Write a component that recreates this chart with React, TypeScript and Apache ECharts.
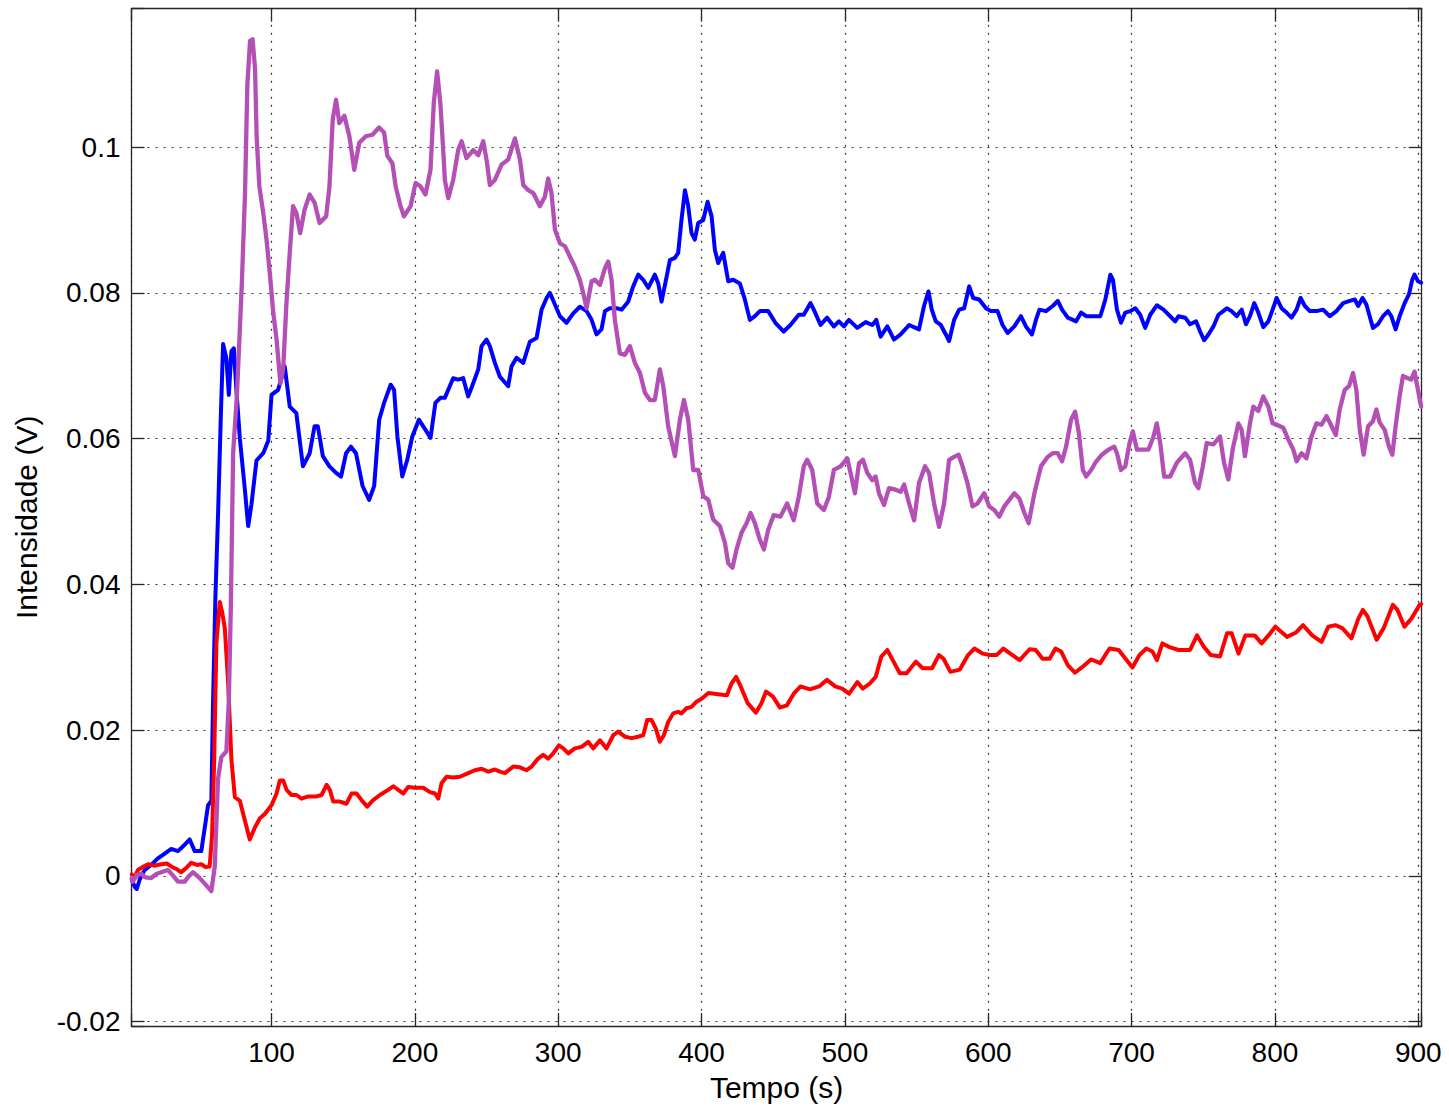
import React, { useEffect, useRef } from "react";
import * as echarts from "echarts";

// Axis extents and tick labels
const X_MIN = 2.3;
const X_MAX = 902.4;
const Y_MIN = -0.0206;
const Y_MAX = 0.119;
const X_STEP = 100;
const Y_STEP = 0.02;
const xTickLabels = ["100", "200", "300", "400", "500", "600", "700", "800", "900"];
const yTickLabels = ["-0.02", "0", "0.02", "0.04", "0.06", "0.08", "0.1"];
const xAxisTitle = "Tempo (s)";
const yAxisTitle = "Intensidade (V)";

// Blue series [time (s), intensity (V)]
const blueSeries: [number, number][] = [
  [2.5, -0.0005], [4.5, -0.0015], [6, -0.0018], [8, -0.0005], [11.4, 0.0008], [16, 0.0015], [20.7, 0.0024],
  [25, 0.003], [30, 0.0037], [34.7, 0.0034], [39, 0.0042], [42.9, 0.005], [46.4, 0.0034], [51, 0.0034],
  [53.4, 0.0066], [55.7, 0.0097], [58, 0.0103], [59.2, 0.024], [60.8, 0.038], [62.7, 0.0497], [64.6, 0.063],
  [66.2, 0.073], [68.5, 0.071], [70.2, 0.066], [72, 0.072], [73.7, 0.0724], [75.5, 0.0666], [77.9, 0.06],
  [81.4, 0.053], [83.7, 0.048], [86, 0.051], [89.5, 0.057], [94.2, 0.058], [97.7, 0.0597], [100, 0.066],
  [104.6, 0.0667], [109.2, 0.0699], [112.7, 0.0644], [117.3, 0.0635], [121.9, 0.0562], [126.6, 0.058],
  [130, 0.0617], [132.3, 0.0617], [135.8, 0.0576], [140.4, 0.0562], [145, 0.0553], [148.5, 0.0548],
  [152, 0.058], [155.4, 0.0589], [158.9, 0.058], [163.5, 0.0535], [168.1, 0.0516], [171.6, 0.0535],
  [175.1, 0.0626], [178.5, 0.0649], [183.1, 0.0674], [185.5, 0.0667], [187.8, 0.0603], [191.2, 0.0548],
  [194.7, 0.0571], [198.2, 0.0603], [202.8, 0.0626], [207.4, 0.0612], [210.9, 0.0601], [214.3, 0.0649],
  [217.8, 0.0656], [220.9, 0.0656], [223.3, 0.0667], [226.7, 0.0683], [230.2, 0.0681], [233.7, 0.0683],
  [237.2, 0.0658], [240.7, 0.0676], [244.2, 0.0695], [246.5, 0.0727], [250, 0.0736], [252.3, 0.0727],
  [255.8, 0.0704], [259.3, 0.0685], [265.1, 0.0672], [267.4, 0.0699], [270.9, 0.0711], [275.6, 0.0704],
  [280.2, 0.0733], [284.9, 0.0738], [288.4, 0.0777], [291.9, 0.0793], [294.2, 0.08], [297.7, 0.0784],
  [301.2, 0.0768], [305.8, 0.0759], [310.5, 0.0772], [315.1, 0.0781], [319.8, 0.0775], [323.3, 0.0763],
  [326.7, 0.0743], [330.2, 0.075], [332.6, 0.0775], [336, 0.0779], [340.7, 0.0779], [344.2, 0.0777],
  [348.8, 0.0788], [352.3, 0.0809], [355.8, 0.0825], [359.3, 0.0818], [362.8, 0.0807], [367.4, 0.0825],
  [369.8, 0.0813], [372.1, 0.0788], [375.6, 0.0822], [377.9, 0.0845], [381.4, 0.0848], [383.7, 0.0855],
  [386, 0.09], [388.4, 0.0941], [390.7, 0.0919], [393, 0.0882], [395.3, 0.0873], [397.7, 0.0896],
  [401.2, 0.09], [404.2, 0.0925], [407, 0.0905], [409.3, 0.0859], [411.6, 0.0841], [415.1, 0.0855],
  [418.6, 0.0816], [422.1, 0.0818], [426.7, 0.0813], [430.2, 0.0791], [433.7, 0.0763], [437.2, 0.0768],
  [440.7, 0.0775], [446.5, 0.0775], [451.5, 0.0759], [457.3, 0.0747], [462, 0.0756], [467.8, 0.077],
  [471.3, 0.077], [476, 0.0786], [478.3, 0.0777], [483, 0.0756], [487.6, 0.0766], [492.3, 0.0754],
  [495.8, 0.0761], [499.3, 0.0754], [502.8, 0.0763], [508.6, 0.0752], [514.5, 0.076], [519.1, 0.0756],
  [521.9, 0.0763], [524.9, 0.074], [529.6, 0.0754], [534.3, 0.0736], [538.9, 0.0743], [544.8, 0.0756],
  [551.7, 0.075], [555.2, 0.0782], [558.3, 0.0802], [560.6, 0.0777], [563.4, 0.0761], [566.9, 0.0756],
  [570.4, 0.0743], [572.7, 0.0734], [576.2, 0.0763], [579.7, 0.0777], [583.2, 0.0779], [586.7, 0.0809],
  [589.5, 0.0793], [593.7, 0.0791], [598.4, 0.0779], [601.9, 0.0775], [606.5, 0.0775], [610, 0.0756],
  [613.5, 0.0745], [618.2, 0.0754], [622.8, 0.0768], [626.3, 0.0754], [630.5, 0.0743], [633.3, 0.0763],
  [635.7, 0.0777], [640.3, 0.0775], [645, 0.0782], [648.5, 0.0789], [651.5, 0.0777], [655.5, 0.0766],
  [659, 0.0763], [661.3, 0.0761], [664.8, 0.0773], [668.3, 0.0768], [673, 0.0768], [678.2, 0.0768],
  [681.7, 0.0791], [685.2, 0.0825], [687, 0.0818], [689.8, 0.0777], [692.6, 0.0759], [695.6, 0.0773],
  [699.1, 0.0775], [702.6, 0.0779], [706, 0.077], [709.5, 0.0752], [713, 0.077], [717.6, 0.0783],
  [722.3, 0.0777], [726.9, 0.0768], [730.4, 0.0761], [732.7, 0.0768], [737.4, 0.0766], [740.8, 0.0757],
  [745, 0.0761], [747.8, 0.0747], [750.6, 0.0735], [753.6, 0.0743], [757.1, 0.0754], [760.6, 0.077],
  [764, 0.0775], [766.4, 0.0779], [769.8, 0.0775], [773.3, 0.0768], [776.8, 0.0777], [779.8, 0.0757],
  [782.6, 0.0768], [785.6, 0.0786], [788.4, 0.0773], [791.9, 0.0753], [795.4, 0.0761], [798.4, 0.0777],
  [801.2, 0.0793], [804.6, 0.0779], [808.1, 0.0773], [811.6, 0.0766], [815.1, 0.0777], [817.9, 0.0793],
  [820.9, 0.0782], [824.4, 0.0775], [829, 0.0775], [833.6, 0.0777], [838.3, 0.0768], [842.9, 0.0775],
  [847.6, 0.0786], [852.2, 0.0789], [855.7, 0.0791], [858.1, 0.0782], [861.1, 0.0793], [863.8, 0.0784],
  [866.1, 0.0768], [868.4, 0.0752], [871.9, 0.0757], [875.4, 0.0768], [878.9, 0.0775], [881.2, 0.0768],
  [884.2, 0.075], [887, 0.0768], [890.5, 0.0786], [893.5, 0.0798], [895.8, 0.0818], [897.4, 0.0825],
  [899.8, 0.0816], [902, 0.0814],
];

// Red series [time (s), intensity (V)]
const redSeries: [number, number][] = [
  [2.5, 0.0002], [4, -0.0003], [6.8, 0.0008], [10, 0.0012], [13.8, 0.0016], [18, 0.0014], [23.1, 0.0016],
  [27, 0.0017], [30, 0.0013], [34, 0.0009], [37, 0.0005], [41, 0.0012], [44, 0.0018], [48, 0.0015],
  [51, 0.0016], [54, 0.0012], [56.8, 0.0013], [58.5, 0.0055], [60, 0.016], [61.5, 0.0318], [63.9, 0.0376],
  [65.7, 0.036], [67.4, 0.034], [69.7, 0.0266], [72, 0.016], [74.4, 0.0108], [77.9, 0.0103], [81.4, 0.0076],
  [84.8, 0.005], [88.3, 0.0066], [91.9, 0.0079], [95.3, 0.0085], [100, 0.0097], [103.5, 0.0113],
  [105.8, 0.0131], [108.1, 0.0131], [110.5, 0.0118], [113.9, 0.0111], [117.4, 0.0111], [120.9, 0.0106],
  [125.6, 0.0109], [131.4, 0.0109], [134.9, 0.0111], [138.4, 0.0125], [140.7, 0.0118], [143, 0.0102],
  [147.7, 0.0102], [152.3, 0.0099], [155.8, 0.0113], [159.3, 0.0113], [162.8, 0.0104], [166.7, 0.0095],
  [170.9, 0.0104], [175.6, 0.0111], [181.4, 0.0118], [184.9, 0.0123], [188.4, 0.0118], [191.9, 0.0113],
  [195.3, 0.0122], [200, 0.0121], [205.8, 0.0121], [210.5, 0.0115], [214, 0.0113], [216.3, 0.0106],
  [218.6, 0.0127], [222.1, 0.0136], [226.7, 0.0135], [231.4, 0.0136], [237.2, 0.0141], [241.9, 0.0145],
  [246.5, 0.0147], [251.2, 0.0143], [255.8, 0.0146], [259.3, 0.0143], [262.8, 0.0141], [268.6, 0.015],
  [273.3, 0.0149], [277.9, 0.0145], [281.4, 0.015], [286, 0.0161], [289.5, 0.0166], [293, 0.0161],
  [296.5, 0.0168], [300.5, 0.0179], [303.5, 0.0175], [307, 0.0168], [311.6, 0.0175], [316.3, 0.0177],
  [320.9, 0.0184], [324.4, 0.0175], [329.1, 0.0186], [333.7, 0.0175], [338.4, 0.0193], [341.9, 0.0198],
  [346.5, 0.0191], [351.2, 0.0189], [355.8, 0.0191], [359.3, 0.0193], [362.1, 0.0214], [365.1, 0.0214],
  [368.1, 0.0202], [370.9, 0.0184], [373.7, 0.0193], [376.7, 0.0211], [380.2, 0.0223], [383.7, 0.0225],
  [386, 0.0223], [389.5, 0.023], [393, 0.0232], [396.5, 0.0239], [400, 0.0243], [404.8, 0.0251],
  [412.9, 0.0249], [417.7, 0.0248], [420.9, 0.0264], [424.1, 0.0273], [427.3, 0.026], [432.2, 0.0237],
  [437.9, 0.0224], [441.8, 0.0237], [445, 0.0253], [449.8, 0.0246], [454.7, 0.0231], [459.5, 0.0234],
  [464.3, 0.025], [469.1, 0.026], [475.6, 0.0256], [482, 0.026], [487.5, 0.0269], [493.2, 0.026],
  [498.1, 0.0257], [502.9, 0.025], [508.7, 0.0266], [512.5, 0.0257], [517.4, 0.0264], [521.5, 0.0273],
  [525.4, 0.0301], [529.6, 0.031], [533.4, 0.0296], [538.3, 0.0278], [543.1, 0.0278], [549.5, 0.0294],
  [554.3, 0.0285], [560.8, 0.0285], [565.6, 0.0303], [568.8, 0.0298], [573.6, 0.028], [580.1, 0.0283],
  [585.9, 0.0303], [590.4, 0.0312], [596.1, 0.0305], [601, 0.0303], [605.8, 0.0303], [610.6, 0.0312],
  [615.4, 0.0305], [621.9, 0.0296], [628.9, 0.0311], [633.1, 0.031], [637.9, 0.0298], [642.8, 0.0298],
  [646.9, 0.0312], [650.8, 0.0308], [655.6, 0.0289], [660.5, 0.0279], [665.3, 0.0286], [671.7, 0.0297],
  [678.1, 0.0292], [684.6, 0.0312], [691, 0.031], [695.8, 0.0298], [700.6, 0.0286], [705.5, 0.0303],
  [710.3, 0.0312], [714.5, 0.0308], [717.7, 0.0296], [721.5, 0.0319], [726.4, 0.0314], [732.8, 0.031],
  [740.8, 0.031], [745.7, 0.033], [750.5, 0.0314], [755.3, 0.0303], [761.7, 0.0301], [766.6, 0.0333],
  [769.8, 0.0333], [774.6, 0.0305], [779.4, 0.033], [785.9, 0.033], [790.7, 0.0319], [795.5, 0.033],
  [800.3, 0.0342], [808.4, 0.0328], [814.8, 0.0334], [819.6, 0.0344], [826, 0.033], [832.5, 0.0321],
  [837.3, 0.0342], [842.1, 0.0344], [847, 0.034], [853.4, 0.0326], [858.2, 0.0353], [861.4, 0.0365],
  [864.6, 0.0356], [871, 0.0324], [875.9, 0.034], [882.3, 0.0372], [885.5, 0.0365], [890.4, 0.0342],
  [895.2, 0.0353], [901, 0.0372], [902, 0.0373],
];

// Purple series [time (s), intensity (V)]
const purpleSeries: [number, number][] = [
  [2.5, -0.0003], [3.2, -0.0008], [6, 0.0001], [9, 0.0003], [12, -0.0002], [16, -0.0003], [20, 0.0003],
  [23, 0.0005], [27.7, 0.0008], [31, 0.0001], [34.7, -0.0008], [39.4, -0.0008], [42, -0.0001],
  [45.2, 0.0005], [49.9, -0.0003], [54.5, -0.0013], [58, -0.0021], [60.4, 0.0013], [62.7, 0.0134],
  [65, 0.0163], [68.5, 0.0171], [70.2, 0.024], [71.6, 0.037], [73.2, 0.058], [75.8, 0.0658],
  [79.2, 0.0809], [81.5, 0.0937], [83.1, 0.1084], [85, 0.1146], [86.8, 0.1148], [88.5, 0.1107],
  [89.6, 0.1015], [91.5, 0.0946], [94.2, 0.091], [96.5, 0.0873], [98.8, 0.0827], [101.2, 0.0773],
  [103.5, 0.0736], [106.2, 0.0676], [108.1, 0.0695], [110.4, 0.0786], [112.7, 0.0855], [115, 0.0919],
  [117.3, 0.091], [120, 0.0882], [123, 0.0914], [126.6, 0.0935], [130, 0.0924], [133.5, 0.0896],
  [138.1, 0.0905], [140.4, 0.0946], [142.7, 0.1038], [145, 0.1065], [147.3, 0.1033], [150.8, 0.1043],
  [154.3, 0.1015], [157.7, 0.0969], [161.2, 0.1006], [165.8, 0.1015], [170.4, 0.1017], [175, 0.1027],
  [178.5, 0.102], [180.8, 0.0988], [184.3, 0.0978], [186.6, 0.0946], [190, 0.0919], [192.4, 0.0905],
  [197, 0.0919], [200.5, 0.0951], [204, 0.0946], [207.4, 0.0935], [210.9, 0.0969], [213.2, 0.1061],
  [215.5, 0.1104], [217.8, 0.106], [220.1, 0.0985], [220.9, 0.0955], [223.3, 0.093], [226.7, 0.0955],
  [230.2, 0.0996], [232.6, 0.1008], [236, 0.0985], [240.7, 0.0996], [244.2, 0.0989], [247.7, 0.1008],
  [250, 0.0983], [252.3, 0.0948], [255.8, 0.0955], [260.5, 0.0976], [265.1, 0.0983], [269.8, 0.1012],
  [273.3, 0.0983], [275.6, 0.0948], [279.1, 0.0941], [282.6, 0.0937], [287.2, 0.0919], [290.7, 0.0932],
  [293, 0.0957], [295.3, 0.0937], [297.7, 0.0887], [301.2, 0.0868], [304.7, 0.0864], [308.1, 0.085],
  [311.6, 0.0836], [315.1, 0.0818], [317.4, 0.08], [319.8, 0.0779], [323.3, 0.0816], [325.6, 0.0818],
  [329.1, 0.0811], [332.6, 0.0834], [334.9, 0.0843], [337.2, 0.0818], [339.5, 0.0763], [343, 0.0717],
  [346.5, 0.0715], [350, 0.0727], [353.5, 0.0704], [357, 0.069], [360.5, 0.0663], [364, 0.0653],
  [367.4, 0.0653], [370.9, 0.0695], [373.3, 0.0672], [376.7, 0.0617], [381.4, 0.0576], [384.9, 0.0626],
  [387.7, 0.0653], [390.7, 0.0626], [394.2, 0.0557], [397.7, 0.0557], [401.2, 0.0521], [404.7, 0.0516],
  [408.1, 0.0489], [412.8, 0.048], [416.3, 0.0457], [418.6, 0.0429], [421.6, 0.0423], [424.4, 0.0448],
  [427.9, 0.0471], [431.4, 0.0484], [434.2, 0.0498], [437.2, 0.0484], [440.7, 0.0461], [443.5, 0.0448],
  [446.5, 0.0475], [450.3, 0.0495], [455, 0.0493], [459.7, 0.0511], [464.3, 0.0488], [467.8, 0.052],
  [471.3, 0.0562], [473.7, 0.0571], [477.2, 0.0557], [480.7, 0.0511], [485.3, 0.0502], [488.8, 0.052],
  [492.3, 0.0557], [497, 0.0562], [501.6, 0.0573], [505.1, 0.0543], [507, 0.0525], [509.8, 0.0566],
  [512.6, 0.0571], [515.6, 0.0553], [519.1, 0.0543], [521.4, 0.0548], [523.8, 0.0525], [527.3, 0.0509],
  [530.8, 0.0532], [535.4, 0.053], [538.9, 0.0527], [541.3, 0.0537], [544.8, 0.0511], [548.3, 0.0488],
  [551.7, 0.0539], [555.9, 0.0562], [558.7, 0.0553], [562.2, 0.0511], [565.7, 0.0479], [569.2, 0.0511],
  [572.7, 0.0571], [576.2, 0.0575], [579.3, 0.0578], [582.1, 0.0562], [585.5, 0.0539], [589, 0.0507],
  [592.5, 0.0511], [597.2, 0.0525], [600.7, 0.0507], [604.2, 0.0502], [607.7, 0.0493], [611.2, 0.0507],
  [614.7, 0.0516], [618.2, 0.0525], [621.7, 0.0518], [625.2, 0.0498], [628.2, 0.0484], [632.2, 0.0525],
  [636.8, 0.0562], [641.5, 0.0575], [645, 0.058], [648.5, 0.058], [651.5, 0.0569], [654.3, 0.0589],
  [657.8, 0.0626], [660.6, 0.0637], [663.2, 0.0608], [666, 0.0557], [668.3, 0.0548], [671.8, 0.0557],
  [674.7, 0.0567], [679.3, 0.0578], [684, 0.0585], [687.9, 0.0589], [689.8, 0.058], [692.6, 0.0557],
  [695.6, 0.0562], [698.6, 0.0594], [700.9, 0.061], [703.7, 0.0585], [708.4, 0.0585], [711.8, 0.0585],
  [715.3, 0.0603], [717.6, 0.0621], [720, 0.0594], [722.7, 0.0548], [726.9, 0.0548], [731.6, 0.0567],
  [737.4, 0.058], [740.8, 0.0571], [744.3, 0.0539], [746.6, 0.0532], [749.7, 0.0562], [752.4, 0.0594],
  [757.1, 0.0592], [761.7, 0.0603], [764.5, 0.0567], [767.5, 0.0544], [770.5, 0.0585], [774.5, 0.0621],
  [776.8, 0.0612], [779.1, 0.0576], [782.6, 0.0621], [784.9, 0.0644], [788.4, 0.0638], [791.9, 0.0658],
  [795.4, 0.0644], [798.4, 0.0621], [801.2, 0.0619], [805.8, 0.0615], [809.3, 0.0599], [812.8, 0.0585],
  [815.1, 0.0569], [818.6, 0.058], [822, 0.0573], [825.5, 0.0603], [829, 0.0621], [832.5, 0.0619],
  [836, 0.0631], [839.5, 0.0617], [842.5, 0.0605], [845.2, 0.064], [848.7, 0.0667], [851.7, 0.0672],
  [854.5, 0.069], [856.8, 0.0667], [859.2, 0.0612], [861.9, 0.0578], [865, 0.0617], [868.4, 0.0624],
  [870.8, 0.064], [873.1, 0.0622], [876.6, 0.0612], [879.6, 0.0589], [881.9, 0.0578], [884.2, 0.0617],
  [887, 0.0658], [889.3, 0.0686], [892.8, 0.0683], [895.1, 0.0681], [897.4, 0.0692], [899.8, 0.0667],
  [902, 0.0644],
];

const FONT = "'Liberation Sans', Arial, Helvetica, sans-serif";
const AXIS_COLOR = "#262626";

function xLabel(v: number): string {
  const idx = Math.round(v / X_STEP) - 1;
  if (Math.abs(v - (idx + 1) * X_STEP) > 1e-6) return "";
  return xTickLabels[idx] ?? "";
}

function yLabel(v: number): string {
  const r = Math.round(v / Y_STEP);
  if (Math.abs(v - r * Y_STEP) > 1e-7) return "";
  return yTickLabels[r + 1] ?? "";
}

export default function App() {
  const ref = useRef<HTMLDivElement>(null);

  useEffect(() => {
    if (!ref.current) return;
    const chart = echarts.init(ref.current, undefined, { renderer: "svg" });

    const lineCommon = { show: true, onZero: false, lineStyle: { color: AXIS_COLOR, width: 1.3 } };
    const tickCommon = { show: true, inside: true, length: 13, lineStyle: { color: AXIS_COLOR, width: 1.3 } };
    const gridLine = { show: true, lineStyle: { color: "#333", width: 1.2, type: [2, 6] as number[] } };
    const seriesLine = (color: string, width: number) => ({ color, width, cap: "round", join: "round" });

    chart.setOption({
      animation: false,
      backgroundColor: "#ffffff",
      grid: { left: 131.5, right: 27.3, top: 8.7, bottom: 81, containLabel: false },
      xAxis: [
        {
          type: "value",
          position: "bottom",
          min: X_MIN,
          max: X_MAX,
          minInterval: X_STEP,
          maxInterval: X_STEP,
          splitNumber: 9,
          axisLine: lineCommon,
          axisTick: tickCommon,
          axisLabel: { margin: 12, fontSize: 28, fontFamily: FONT, color: "#000", formatter: xLabel },
          splitLine: gridLine,
          name: xAxisTitle,
          nameLocation: "middle",
          nameGap: 46,
          nameTextStyle: { fontSize: 30, fontFamily: FONT, color: "#000" },
        },
        {
          type: "value",
          position: "top",
          min: X_MIN,
          max: X_MAX,
          minInterval: X_STEP,
          maxInterval: X_STEP,
          splitNumber: 9,
          axisLine: lineCommon,
          axisTick: tickCommon,
          axisLabel: { show: false },
          splitLine: { show: false },
        },
      ],
      yAxis: [
        {
          type: "value",
          position: "left",
          min: Y_MIN,
          max: Y_MAX,
          minInterval: Y_STEP,
          maxInterval: Y_STEP,
          splitNumber: 7,
          axisLine: lineCommon,
          axisTick: tickCommon,
          axisLabel: { margin: 11, fontSize: 28, fontFamily: FONT, color: "#000", formatter: yLabel },
          splitLine: gridLine,
          name: yAxisTitle,
          nameLocation: "middle",
          nameGap: 90,
          nameTextStyle: { fontSize: 30, fontFamily: FONT, color: "#000" },
        },
        {
          type: "value",
          position: "right",
          min: Y_MIN,
          max: Y_MAX,
          minInterval: Y_STEP,
          maxInterval: Y_STEP,
          splitNumber: 7,
          axisLine: lineCommon,
          axisTick: tickCommon,
          axisLabel: { show: false },
          splitLine: { show: false },
        },
      ],
      series: [
        {
          name: "azul",
          type: "line",
          data: blueSeries,
          showSymbol: false,
          symbol: "none",
          lineStyle: seriesLine("#0000ff", 4),
          z: 3,
        },
        {
          name: "vermelho",
          type: "line",
          data: redSeries,
          showSymbol: false,
          symbol: "none",
          lineStyle: seriesLine("#ff0000", 4),
          z: 4,
        },
        {
          name: "roxo",
          type: "line",
          data: purpleSeries,
          showSymbol: false,
          symbol: "none",
          lineStyle: seriesLine("#b34fb5", 4.3),
          z: 5,
        },
      ],
    });

    return () => chart.dispose();
  }, []);

  return (
    <div
      ref={ref}
      style={{ position: "absolute", left: 0, top: 0, width: 1449, height: 1107, background: "#fff" }}
    />
  );
}
